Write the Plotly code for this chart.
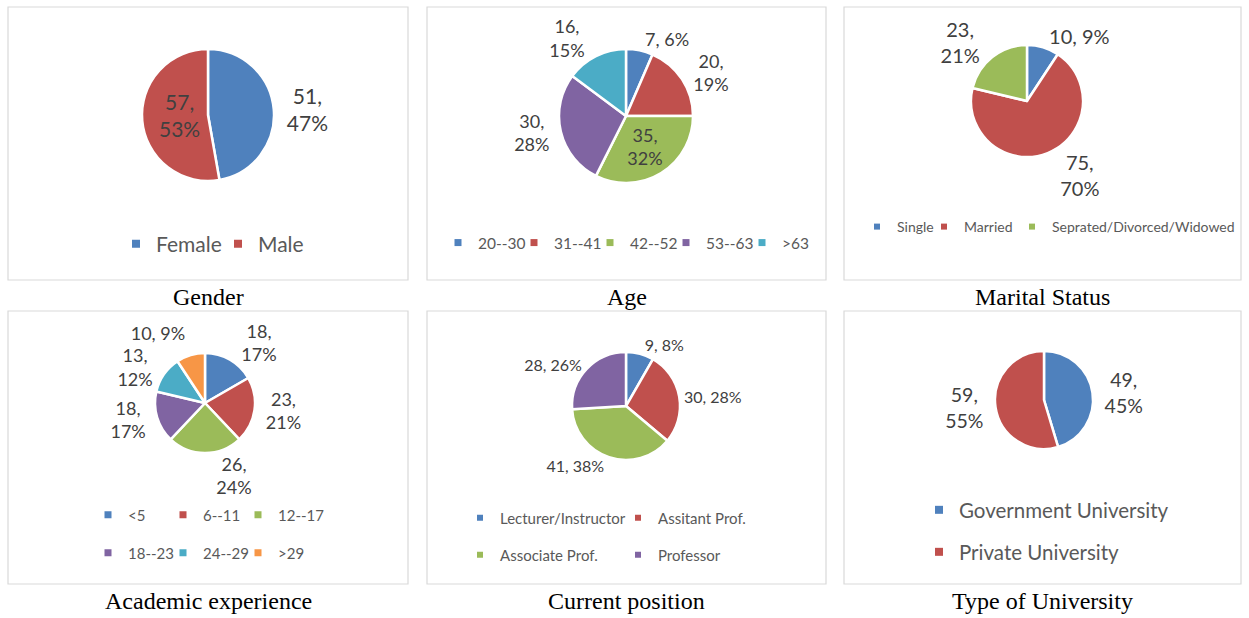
import plotly.graph_objects as go

W, H = 1249, 618

# ---------------- data ----------------
gender_labels = ["Female", "Male"]
gender_values = [51, 57]
gender_pct = [47, 53]

age_labels = ["20--30", "31--41", "42--52", "53--63", ">63"]
age_values = [7, 20, 35, 30, 16]
age_pct = [6, 19, 32, 28, 15]

marital_labels = ["Single", "Married", "Seprated/Divorced/Widowed"]
marital_values = [10, 75, 23]
marital_pct = [9, 70, 21]

exp_labels = ["<5", "6--11", "12--17", "18--23", "24--29", ">29"]
exp_values = [18, 23, 26, 18, 13, 10]
exp_pct = [17, 21, 24, 17, 12, 9]

pos_labels = ["Lecturer/Instructor", "Assitant Prof.", "Associate Prof.", "Professor"]
pos_values = [9, 30, 41, 28]
pos_pct = [8, 28, 38, 26]

uni_labels = ["Government University", "Private University"]
uni_values = [49, 59]
uni_pct = [45, 55]

titles = ["Gender", "Age", "Marital Status", "Academic experience",
          "Current position", "Type of University"]

# ---------------- style ----------------
palette = ["#4F81BD", "#C0504D", "#9BBB59", "#8064A2", "#4BACC6", "#F79646"]
LABEL_COLOR = "#404040"
LEGEND_COLOR = "#595959"
FONT = "Lato, Liberation Sans, sans-serif"
SERIF = "Liberation Serif, Times New Roman, serif"

boxes = [  # x0, y0, x1, y1 in px
    (8, 7, 408, 280), (427, 7, 826, 280), (844, 7, 1241, 280),
    (8, 311, 408, 584), (427, 311, 826, 584), (844, 311, 1241, 584),
]
title_y = [297, 297, 297, 601, 601, 601]

panels = [
    dict(labels=gender_labels, values=gender_values, pct=gender_pct,
         center=(208, 115), r=66, fs=21,
         tpos=["outside", "inside"], brk=[True, True]),
    dict(labels=age_labels, values=age_values, pct=age_pct,
         center=(626, 116), r=67, fs=18,
         tpos=["outside", "outside", "inside", "outside", "outside"],
         brk=[False, True, True, True, True]),
    dict(labels=marital_labels, values=marital_values, pct=marital_pct,
         center=(1027, 101), r=56, fs=20,
         tpos=["outside", "outside", "outside"], brk=[False, True, True]),
    dict(labels=exp_labels, values=exp_values, pct=exp_pct,
         center=(205, 403), r=50, fs=18,
         tpos=["outside"] * 6, brk=[True, True, True, True, True, False]),
    dict(labels=pos_labels, values=pos_values, pct=pos_pct,
         center=(626, 406), r=54, fs=16,
         tpos=["outside"] * 4, brk=[False] * 4),
    dict(labels=uni_labels, values=uni_values, pct=uni_pct,
         center=(1044, 400), r=49, fs=19.5,
         tpos=["outside", "outside"], brk=[True, True]),
]

# legend rows: panel, item indices, first marker centre x, centre y (px),
# spacing between successive markers, font size, marker size
legend_rows = [
    dict(p=0, items=[0, 1], x=136, y=244, pitch=[102], fs=21, ms=8),
    dict(p=1, items=[0, 1, 2, 3, 4], x=458, y=243, pitch=[76, 76, 76, 76], fs=15.5, ms=7),
    dict(p=2, items=[0, 1, 2], x=877, y=227, pitch=[67, 88], fs=14, ms=6),
    dict(p=3, items=[0, 1, 2], x=108, y=515, pitch=[75, 75], fs=15, ms=7),
    dict(p=3, items=[3, 4, 5], x=108, y=553, pitch=[75, 75], fs=15, ms=7),
    dict(p=4, items=[0, 1], x=480, y=518, pitch=[158], fs=15, ms=6),
    dict(p=4, items=[2, 3], x=480, y=555, pitch=[158], fs=15, ms=6),
    dict(p=5, items=[0], x=939, y=510, pitch=[], fs=20.5, ms=8),
    dict(p=5, items=[1], x=939, y=552, pitch=[], fs=20.5, ms=8),
]
SYMBOL_OFFSET = 20   # plotly: legend symbol centre sits 20px right of legend left
ITEM_EXTRA = 45      # plotly: text gap (40) + item gap (5)

fig = go.Figure()

span = "<span style='color:" + LABEL_COLOR + ";fill-opacity:1'>{}</span>"
for p in panels:
    cx, cy = p["center"]
    r = p["r"]
    templates = []
    for b in p["brk"]:
        if b:
            templates.append(span.format("%{value},") + "<br>" + span.format("%{customdata}%"))
        else:
            templates.append(span.format("%{value}, %{customdata}%"))
    n = len(p["values"])
    fig.add_trace(go.Pie(
        labels=p["labels"], values=p["values"], customdata=p["pct"],
        texttemplate=templates, textposition=p["tpos"],
        insidetextorientation="horizontal",
        insidetextfont=dict(family=FONT, size=p["fs"], color=LABEL_COLOR),
        # connector lines take this colour; text colour comes from the span
        outsidetextfont=dict(family=FONT, size=p["fs"], color="rgba(64,64,64,0)"),
        marker=dict(colors=palette[:n], line=dict(color="white", width=2.5)),
        sort=False, direction="clockwise", rotation=0,
        showlegend=False, hoverinfo="label+value+percent",
        domain=dict(x=[(cx - r) / W, (cx + r) / W],
                    y=[1 - (cy + r) / H, 1 - (cy - r) / H]),
    ))

layout_legends = {}
for i, row in enumerate(legend_rows):
    name = "legend" if i == 0 else f"legend{i + 1}"
    p = panels[row["p"]]
    for j, k in enumerate(row["items"]):
        lw = row["pitch"][j] - ITEM_EXTRA if j < len(row["pitch"]) else None
        fig.add_trace(go.Scatter(
            x=[None], y=[None], mode="markers",
            marker=dict(symbol="square", size=row["ms"], color=palette[k],
                        line=dict(width=0)),
            name=p["labels"][k], legend=name, showlegend=True, hoverinfo="skip",
            legendwidth=lw,
        ))
    layout_legends[name] = dict(
        orientation="h", x=(row["x"] - SYMBOL_OFFSET) / W, xanchor="left",
        y=1 - row["y"] / H, yanchor="middle",
        font=dict(family=FONT, size=row["fs"], color=LEGEND_COLOR),
        bgcolor="rgba(0,0,0,0)", itemclick=False, itemdoubleclick=False,
    )

shapes = []
for (x0, y0, x1, y1) in boxes:
    shapes.append(dict(type="rect", xref="paper", yref="paper",
                       x0=x0 / W, x1=x1 / W, y0=1 - y1 / H, y1=1 - y0 / H,
                       line=dict(color="#D9D9D9", width=1.2),
                       fillcolor="rgba(0,0,0,0)"))

annotations = []
for (x0, y0, x1, y1), t, ty in zip(boxes, titles, title_y):
    annotations.append(dict(text=t, xref="paper", yref="paper",
                            x=(x0 + x1) / 2 / W, y=1 - ty / H,
                            xanchor="center", yanchor="middle", showarrow=False,
                            font=dict(family=SERIF, size=24, color="black")))

fig.update_layout(
    width=W, height=H, margin=dict(l=0, r=0, t=0, b=0),
    paper_bgcolor="white", plot_bgcolor="white",
    xaxis=dict(visible=False), yaxis=dict(visible=False),
    shapes=shapes, annotations=annotations,
    **layout_legends,
)

fig.write_html("out.html")
